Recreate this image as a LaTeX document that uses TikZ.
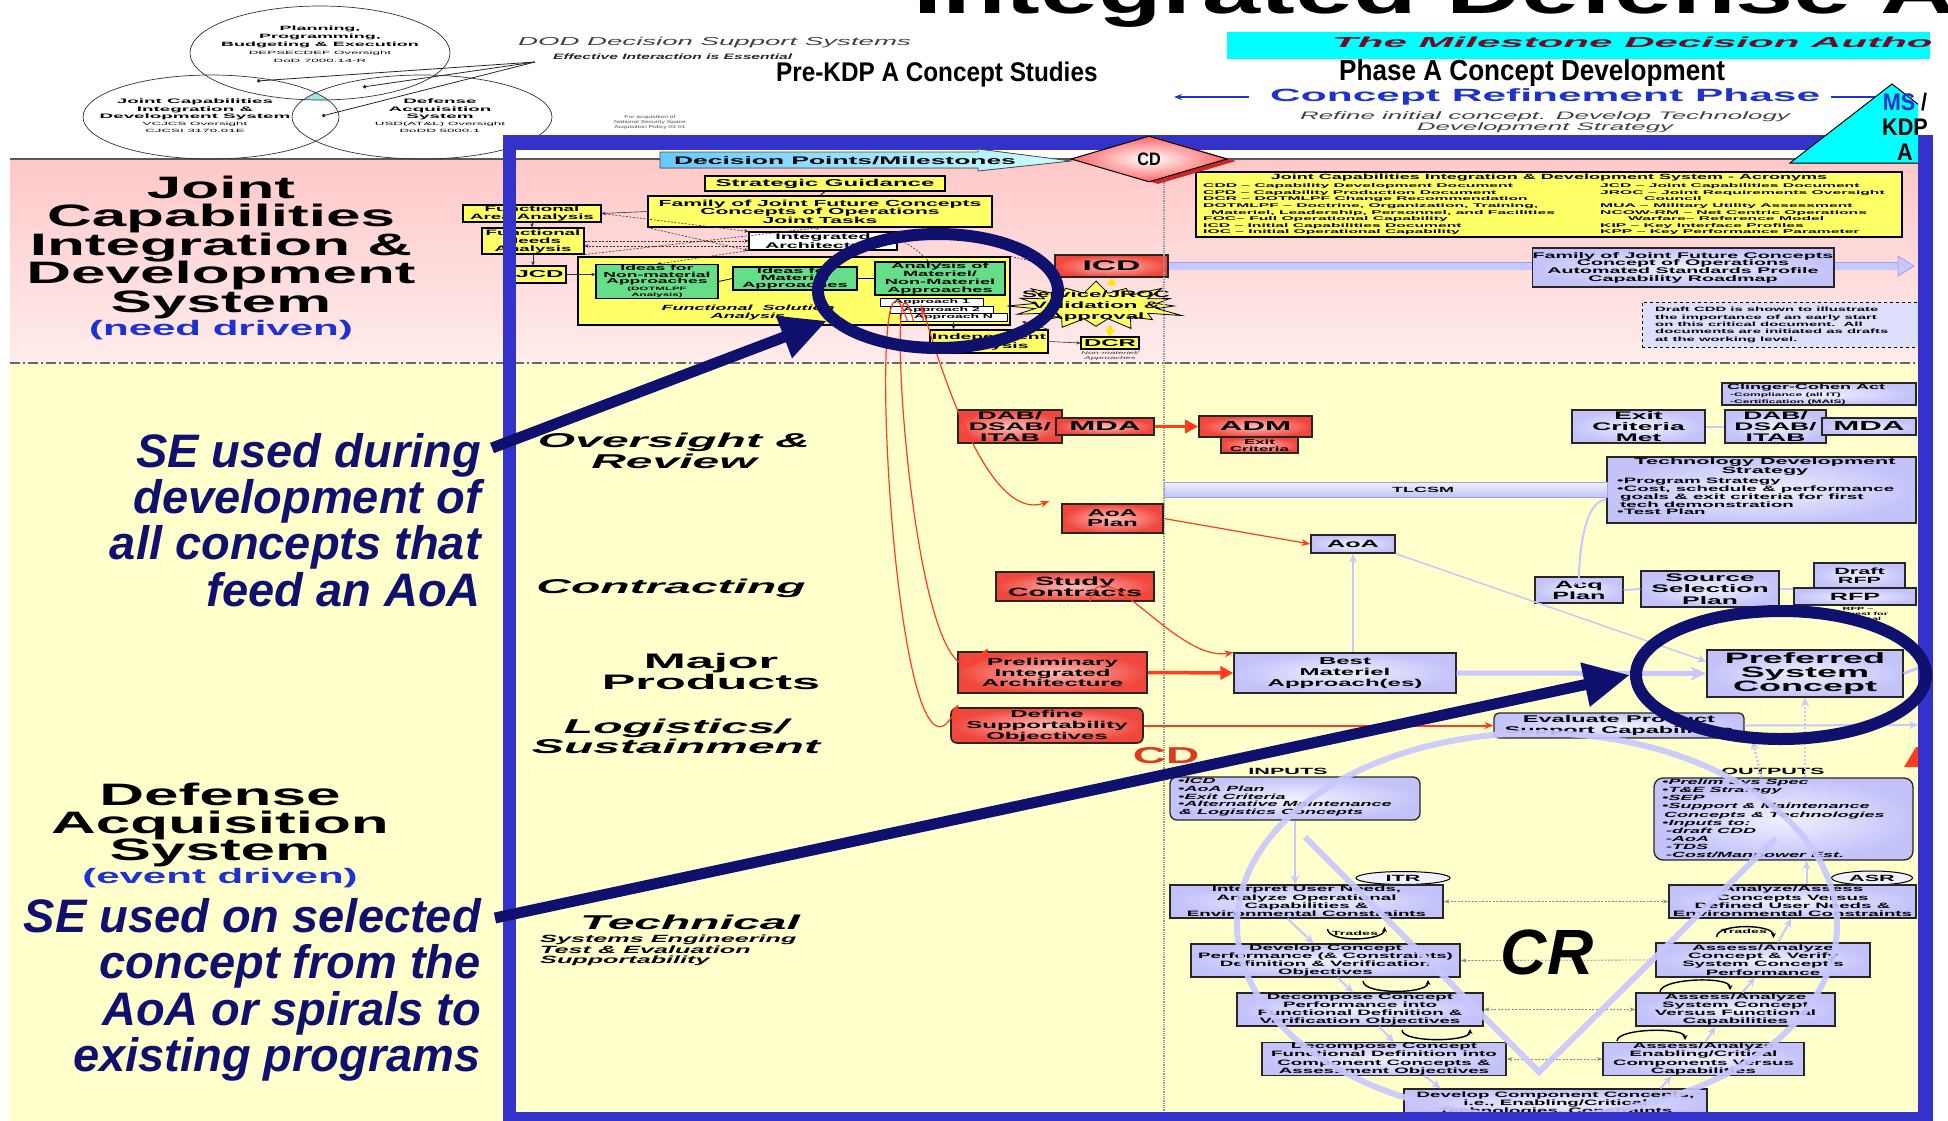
\documentclass[tikz,border=0pt]{standalone}
\usepackage{fontspec}
\usepackage{graphicx}
\setmainfont{Liberation Sans}
\newfontfamily\Wa[FakeStretch=1.6]{Liberation Sans}
\newfontfamily\Wb[FakeStretch=2.0]{Liberation Sans}
\newfontfamily\Wc[FakeStretch=2.4]{Liberation Sans}
\newfontfamily\Wd[FakeStretch=2.9]{Liberation Sans}
\newfontfamily\Nr[FakeStretch=0.9]{Liberation Sans}
\usetikzlibrary{shapes.geometric,arrows.meta,calc}
\setlength{\lineskiplimit}{-40pt}
\newcommand\fz[2]{\fontsize{#1}{#2}\selectfont}
\newcommand\bx[7]{\pgfmathsetmacro\bxw{(#4)-(#2)}\pgfmathsetmacro\bxh{(#5)-(#3)}\node[#6, minimum width=\bxw pt, minimum height=\bxh pt] (#1) at ({((#2)+(#4))/2},{((#3)+(#5))/2}) {#7};}
\definecolor{pinkT}{RGB}{255,200,200}
\definecolor{pinkB}{RGB}{255,236,236}
\definecolor{ylwbg}{RGB}{255,255,204}
\definecolor{frameblue}{RGB}{51,51,204}
\definecolor{navy}{RGB}{16,16,110}
\definecolor{boxy}{RGB}{255,255,102}
\definecolor{boxg}{RGB}{102,221,136}
\definecolor{redIn}{RGB}{255,190,185}
\definecolor{redOut}{RGB}{240,70,60}
\definecolor{lavIn}{RGB}{240,240,255}
\definecolor{lavOut}{RGB}{195,195,250}
\definecolor{lavline}{RGB}{200,200,255}
\definecolor{lavedge}{RGB}{160,160,230}
\definecolor{arrred}{RGB}{255,60,30}
\definecolor{maroon}{RGB}{115,10,40}
\definecolor{crblue}{RGB}{30,50,210}
\definecolor{cyanbar}{RGB}{0,255,255}
\definecolor{cdred}{RGB}{220,60,30}
\definecolor{cdfill}{RGB}{255,100,100}
\definecolor{cdshadow}{RGB}{200,40,40}
\definecolor{venncyan}{RGB}{160,230,230}
\definecolor{yarrc}{RGB}{255,230,0}
\tikzset{
  bt/.style={align=center, inner sep=0.5pt, text=black},
  txt/.style={align=center, inner sep=0pt, text=black},
  ybox/.style={bt, draw=black, line width=1.1, fill=boxy},
  gbox/.style={bt, draw=black, line width=1.1, fill=boxg},
  wbox/.style={bt, draw=black, line width=1.1, fill=white},
  rbox/.style={bt, draw=black!85, line width=1.6, inner color=redIn, outer color=redOut},
  lbox/.style={bt, draw=black!85, line width=1.3, inner color=lavIn, outer color=lavOut},
  thinarr/.style={-{Stealth[length=4pt,width=3.5pt]}, line width=0.6, draw=black!80},
  dasharr/.style={thinarr, dash pattern=on 2pt off 1.5pt},
  redarr/.style={-{Stealth[length=9pt,width=7pt]}, line width=1.2, draw=arrred},
  redfat/.style={-{Triangle[length=13pt,width=13pt]}, line width=3.5, draw=arrred},
  lavarr/.style={-{Stealth[length=9pt,width=8pt]}, line width=2, draw=lavline},
  lavfat/.style={-{Stealth[length=16pt,width=14pt]}, line width=5, draw=lavline},
  lavdot/.style={lavarr, line width=2.5, dash pattern=on 2pt off 2pt},
  ddarr/.style={{Stealth[length=6pt,width=4pt]}-{Stealth[length=6pt,width=4pt]}, line width=0.8, draw=black!45, dash pattern=on 2pt off 1.5pt},
  loopar/.style={-{Stealth[length=5pt,width=5pt]}, line width=1.4, draw=black},
  yarr/.style={-{Triangle[length=7pt,width=9pt]}, line width=3.5, draw=yarrc},
  navyarr/.style={line width=11, draw=navy, -{Triangle[length=46pt,width=42pt]}},
  navyring/.style={ellipse, draw=navy, line width=12, inner sep=0pt},
  lavover/.style={draw=lavline, line width=6, opacity=0.9},
  vfont/.style={font=\Wc\bfseries\fz{7.8}{8.2}},
}
\begin{document}
\begin{tikzpicture}[x=1pt,y=-1pt]
\useasboundingbox (0,0) rectangle (1948,1121);
\begin{scope}
\clip (0,0) rectangle (1948,1121);
% backgrounds
\fill[white] (0,0) rectangle (1948,1121);
\shade[top color=pinkT, bottom color=pinkB] (10,159) rectangle (1930,363);
\draw[black!65, line width=1.5] (10,159) -- (1930,159);
\fill[ylwbg] (10,363) rectangle (1930,1121);
\draw[black!60, line width=1.3, dash pattern=on 10pt off 3pt on 2pt off 3pt] (10,363) -- (1930,363);

% ---------- Venn ----------
\begin{scope}
 \clip (320,53) ellipse [x radius=130, y radius=47];
 \clip (211,117) ellipse [x radius=128, y radius=42];
 \fill[venncyan] (422,117) ellipse [x radius=130, y radius=42];
\end{scope}
\draw[black!80, line width=0.7] (320,53) ellipse [x radius=130, y radius=47];
\draw[black!80, line width=0.7] (211,117) ellipse [x radius=128, y radius=42];
\draw[black!80, line width=0.7] (422,117) ellipse [x radius=130, y radius=42];
\node[txt, font=\Wd\bfseries\fz{6.2}{8}] (vt) at (320,44) {Planning,\\Programming,\\Budgeting \& Execution\\{\mdseries\fz{4.6}{8}DEPSECDEF Oversight}\\{\mdseries\fz{4.6}{8}DoD 7000.14-R}};
\node[txt, font=\Wd\bfseries\fz{6.5}{7.3}] (vl) at (195,116) {Joint Capabilities\\Integration \&\\Development System\\{\mdseries\fz{4.6}{7.3}VCJCS Oversight}\\{\mdseries\fz{4.6}{7.3}CJCSI 3170.01E}};
\node[txt, font=\Wd\bfseries\fz{6.5}{7.3}] (vr) at (440,116) {Defense\\Acquisition\\System\\{\mdseries\fz{4.6}{7.3}USD(AT\&L) Oversight}\\{\mdseries\fz{4.6}{7.3}DoDD 5000.1}};
\coordinate (dd1) at (257,81);
\coordinate (dd2) at (363,87);
\coordinate (dd3) at (322,116);
\coordinate (ddc) at (535,62);
\draw[black!85, line width=0.8, {Circle[length=3.5pt]}-] (dd1) -- (ddc);
\draw[black!85, line width=0.8, {Circle[length=3.5pt]}-] (dd2) -- (ddc);
\draw[black!85, line width=0.8, {Circle[length=3.5pt]}-] (dd3) -- (ddc);
\node[txt, anchor=west, text=black!75, font=\Wc\itshape\fz{11.5}{12}] (dod) at (518,43) {DOD Decision Support Systems};
\node[txt, anchor=west, text=black!85, font=\Wb\bfseries\itshape\fz{7.8}{8}] (eff) at (553,57) {Effective Interaction is Essential};
\node[txt, text=black!70, font=\Wa\fz{4.2}{5}] (forac) at (650,122) {For acquisition of\\National Security Space\\Acquisition Policy 03-01};

% ---------- title area ----------
\node[anchor=base west, inner sep=0pt] (title) at (913,14) {\scalebox{1.58}[1]{\bfseries\fz{66}{66}Integrated Defense A}};
\fill[cyanbar] (1227,32) rectangle (1930,59);
\begin{scope}
 \clip (1227,32) rectangle (1930,59);
 \node[txt, anchor=west, text=maroon, font=\Wd\bfseries\itshape\fz{14.5}{15}] (mdat) at (1332,44) {The Milestone Decision Authority};
\end{scope}
\node[txt, anchor=west, font=\Nr\bfseries\fz{27}{27}] (prekdp) at (776,75) {Pre-KDP A Concept Studies};
\node[txt, anchor=west, font=\Nr\bfseries\fz{29}{29}] (phasea) at (1339,73) {Phase A Concept Development};
\node[txt, anchor=west, text=crblue, font=\Wc\bfseries\fz{17.7}{18}] (crp) at (1270,97) {Concept Refinement Phase};
\coordinate (crl) at (1174,97);
\coordinate (crr) at (1900,97);
\draw[crblue, line width=1.2, -{Stealth[length=8pt,width=6pt]}] ([xshift=-21pt]crp.west) -- (crl);
\draw[crblue, line width=1.2] ([xshift=11pt]crp.east) -- (crr);
\node[txt, text=black!75, font=\Wc\itshape\fz{10.8}{11.5}] (refine) at (1545,122) {Refine initial concept. Develop Technology\\Development Strategy};

% ---------- pink region (JCIDS) ----------
\node[txt, font=\Wb\bfseries\fz{31}{28.5}] (jcids) at (221,247) {Joint\\Capabilities\\Integration \&\\Development\\System};
\node[txt, text=crblue, font=\Wb\bfseries\fz{21}{21}] (needd) at (221,330) {(need driven)};

\bx{FSA}{578}{257}{1010}{325}{ybox}{}
\node[txt, font=\Wc\bfseries\itshape\fz{7.5}{8}] (FSAt) at (748,313) {Functional\ \ Solution\\Analysis};
\bx{FAA}{463}{205}{601}{222}{ybox, font=\Wc\bfseries\fz{7.8}{8}}{Functional\\Area Analysis}
\bx{FNA}{482}{228}{584}{254}{ybox, font=\Wc\bfseries\fz{7.8}{8}}{Functional\\Needs\\Analysis}
\bx{JCD}{513}{266}{566}{283}{ybox, font=\Wc\bfseries\fz{10}{10}}{JCD}
\bx{StrG}{705}{176}{945}{191}{ybox, font=\Wc\bfseries\fz{10}{10}}{Strategic Guidance}
\bx{Fam}{648}{196}{992}{227}{ybox, font=\Wc\bfseries\fz{8.8}{8.5}}{Family of Joint Future Concepts\\Concepts of Operations\\Joint Tasks}
\bx{IntA}{749}{232}{897}{250}{wbox, font=\Wc\bfseries\fz{8.2}{8.3}}{Integrated\\Architecture}
\bx{G1}{596}{265}{718}{298}{gbox, font=\Wc\bfseries\fz{7.3}{6.6}}{Ideas for\\Non-material\\Approaches\\{\fz{4.8}{6.6}(DOTMLPF}\\{\fz{4.8}{6.6}Analysis)}}
\bx{G2}{733}{267}{857}{290}{gbox, font=\Wc\bfseries\fz{7.6}{7.4}}{Ideas for\\Materiel\\Approaches}
\bx{G3}{875}{262}{1005}{295}{gbox, font=\Wc\bfseries\fz{7.6}{7.8}}{Analysis of\\Materiel/\\Non-Materiel\\Approaches}
\bx{Ap1}{880}{298}{983}{306}{wbox, line width=0.8, font=\Wc\bfseries\fz{5.8}{6}}{Approach 1}
\bx{Ap2}{890}{306}{993}{313}{wbox, line width=0.8, font=\Wc\bfseries\fz{5.8}{6}}{Approach 2}
\bx{ApN}{900}{313}{1007}{321}{wbox, line width=0.8, font=\Wc\bfseries\fz{5.8}{6}}{Approach N}
\bx{Indep}{930}{330}{1048}{353}{ybox, font=\Wc\bfseries\fz{8}{9}}{Independent\\Analysis}
\bx{DCR}{1081}{337}{1139}{349}{ybox, font=\Wc\bfseries\fz{10}{10}}{DCR}
\node[txt, text=black!80, font=\Wc\itshape\fz{4}{4.5}] (DCRn) at (1110,356) {Non-materiel/\\Approaches};
% starburst
\draw[fill=boxy, draw=black, line width=0.8] (1174,306) \foreach \i in {1,...,31}{ -- ({1096+(62+(1-isodd(\i))*(24-7*cos(\i*97)))*cos(\i*11.25)},{306+(13+(1-isodd(\i))*(9-3*cos(\i*97)))*sin(\i*11.25)}) } -- cycle;
\node[minimum width=168pt, minimum height=40pt, inner sep=0pt] (Star) at (1096,306) {};
\node[txt, font=\Wc\bfseries\fz{9.3}{11}] (StarT) at (1096,306) {Service/JROC\\Validation \&\\Approval};
\bx{ICD}{1055}{255}{1168}{277}{rbox, font=\Wc\bfseries\fz{14}{14}}{ICD}

\draw[line width=0.8] (StrG.south) -- (Fam.north);
\draw[thinarr] (Fam.west) -- (FAA.east);
\draw[thinarr] (FAA.south) -- (FAA.south |- FNA.north);
\draw[thinarr] (FNA.south) -- (FNA.south |- JCD.north);
\draw[thinarr] (JCD.east) -- (G1.west |- JCD.east);
\draw[dasharr] (FNA.east) -- (IntA.west);
\draw[dasharr] ([yshift=-5pt]IntA.west) -- ([yshift=-5pt]FNA.east);
\draw[dasharr] (FAA.east) -- (IntA.north west);
\draw[dasharr] (Fam.south west) -- (IntA.south west);
\draw[dasharr] (FNA.south east) -- (Fam.south);
\draw[dasharr] (IntA.south west) -- (G1.north);
\draw[dasharr] (IntA.east) to[out=0,in=270] (G3.north);
\draw[dasharr] (FSA.north east) -- (ICD.west);
\draw[line width=0.8] (G1.east) -- (G2.west);
\draw[line width=0.8] (G2.east) -- (G3.west);
\draw[thinarr] (ApN.south) -- (ApN.south |- Indep.north);
\draw[thinarr] (Indep.east) -- (DCR.west);
\draw[thinarr] (Indep.north east) -- (StarT.south west);
\draw[yarr] (Star.north -| ICD.south) -- (ICD.south);
\draw[yarr] (Star.south -| DCR.north) -- (DCR.north);

\bx{Fam2}{1534}{248}{1832}{287}{lbox, font=\Wc\bfseries\fz{8.2}{7.6}}{Family of Joint Future Concepts\\Concept of Operations\\Automated Standards Profile\\Capability Roadmap}
\coordinate (famEnd) at (1898,266);
\draw[draw=lavedge, double=lavline, double distance=7pt, line width=0.8] (ICD.east) -- (ICD.east -| Fam2.west);
\draw[draw=lavedge, double=lavline, double distance=7pt, line width=0.8] (Fam2.east |- ICD.east) -- (famEnd);
\filldraw[fill=lavline, draw=lavedge, line width=0.8] (1898,256) -- (1914,266) -- (1898,276) -- cycle;

\bx{acr}{1196}{172}{1902}{237}{ybox}{}
\node[txt, font=\Wc\bfseries\fz{7.5}{8}] (acrT) at (1549,178) {Joint Capabilities Integration \& Development System - Acronyms};
\node[txt, anchor=north west, align=left, font=\Wd\bfseries\fz{5.4}{6.6}] (acrL) at (1203,183.5) {CDD – Capability Development Document\\CPD – Capability Production Document\\DCR – DOTMLPF Change Recommendation\\DOTMLPF – Doctrine, Organization, Training,\\\hspace*{8pt}Materiel, Leadership, Personnel, and Facilities\\FOC– Full Operational Capability\\ICD – Initial Capabilities Document\\IOC – Initial Operational Capability};
\node[txt, anchor=north west, align=left, font=\Wd\bfseries\fz{5.4}{6.6}] (acrR) at (1600,183.5) {JCD – Joint Capabilities Document\\JROC – Joint Requirements Oversight\\\hspace*{44pt}Council\\MUA – Military Utility Assessment\\NCOW-RM – Net Centric Operations\\\hspace*{28pt}Warfare– Reference Model\\KIP – Key Interface Profiles\\KPP – Key Performance Parameter};

\bx{draftcdd}{1642}{302}{1922}{347}{bt, draw=black, dashed, line width=1, fill=lavIn!60!lavOut}{}
\node[txt, anchor=west, align=left, font=\Wc\bfseries\fz{6.2}{7.3}] (dcddt) at (1655,325) {Draft CDD is shown to illustrate\\the importance of an early start\\on this critical document.\ \ All\\documents are initiated as drafts\\at the working level.};

% divider
\draw[black!40, line width=2.5, dash pattern=on 1pt off 0.8pt] (1164,160) -- (1164,1112);

% ---------- yellow region ----------
\node[txt, font=\Wb\bfseries\fz{31}{27.5}] (das) at (220,825) {Defense\\Acquisition\\System};
\node[txt, text=crblue, font=\Wb\bfseries\fz{21}{21}] (eventd) at (220,878) {(event driven)};
\node[txt, font=\Wc\bfseries\itshape\fz{20}{21}] (ovr) at (674,451) {Oversight \&\\Review};
\node[txt, font=\Wc\bfseries\itshape\fz{20}{21}] (ctr) at (671,588) {Contracting};
\node[txt, font=\Wc\bfseries\fz{21}{21}] (majp) at (711,671) {Major\\Products};
\node[txt, font=\Wc\bfseries\itshape\fz{20}{20}] (logs) at (676,736) {Logistics/\\Sustainment};
\node[txt, anchor=west, font=\Wc\bfseries\itshape\fz{20}{20}] (tech) at (580,922) {Technical};
\node[txt, anchor=north west, align=left, font=\Wc\bfseries\itshape\fz{10.5}{10.5}] (techs) at (540,935) {Systems Engineering\\Test \& Evaluation\\Supportability};

% red boxes
\bx{DAB1}{958}{410}{1062}{443}{rbox, font=\Wc\bfseries\fz{11}{11.2}}{DAB/\\DSAB/\\ITAB}
\bx{MDA1}{1056}{418}{1154}{435}{rbox, font=\Wc\bfseries\fz{13}{13}}{MDA}
\bx{ADM}{1199}{416}{1312}{437}{rbox, font=\Wc\bfseries\fz{13}{13}}{ADM}
\bx{ExitC}{1221}{437}{1298}{453}{rbox, font=\Wc\bfseries\fz{7}{7}}{Exit\\Criteria}
\bx{AoAPlan}{1062}{504}{1163}{533}{rbox, font=\Wc\bfseries\fz{10}{10}}{AoA\\Plan}
\bx{Study}{996}{572}{1154}{601}{rbox, font=\Wc\bfseries\fz{12}{11}}{Study\\Contracts}
\bx{PIA}{958}{652}{1147}{693}{rbox, font=\Wc\bfseries\fz{10}{10.5}}{Preliminary\\Integrated\\Architecture}
\bx{DSO}{951}{708}{1143}{743}{rbox, rounded corners=6pt, font=\Wc\bfseries\fz{10}{11}}{Define\\Supportability\\Objectives}
\node[txt, text=cdred, font=\Wb\bfseries\fz{23}{23}] (cdlbl) at (1166,756) {CD};

% lavender boxes
\bx{AoA}{1311}{535}{1395}{553}{lbox, font=\Wc\bfseries\fz{10.5}{10.5}}{AoA}
\bx{CCA}{1722}{383}{1916}{405}{lbox}{}
\node[txt, anchor=north west, align=left, font=\Wc\bfseries\fz{7.5}{7.3}] (CCAt) at (1727,383.5) {Clinger-Cohen Act\\{\fz{5}{7.3}\hspace*{3pt}-Compliance (all IT)}\\{\fz{5}{7.3}\hspace*{3pt}-Certification (MAIS)}};
\bx{ExitM}{1572}{410}{1705}{443}{lbox, font=\Wc\bfseries\fz{11}{10.8}}{Exit\\Criteria\\Met}
\bx{DAB2}{1725}{410}{1826}{443}{lbox, font=\Wc\bfseries\fz{11}{11.2}}{DAB/\\DSAB/\\ITAB}
\bx{MDA2}{1822}{418}{1916}{435}{lbox, font=\Wc\bfseries\fz{13}{13}}{MDA}
\bx{TDS}{1607}{457}{1916}{523}{lbox}{}
\node[txt, font=\Wc\bfseries\fz{9}{9}] (TDSt) at (1765,467) {Technology Development\\Strategy};
\node[txt, anchor=north west, align=left, font=\Wc\bfseries\fz{7.8}{7.8}] (TDSb) at (1617,478) {•Program Strategy\\•Cost, schedule \& performance\\\hspace*{3pt}goals \& exit criteria for first\\\hspace*{3pt}tech demonstration\\•Test Plan};
\bx{tlcsm}{1164}{482}{1607}{497}{bt, draw=lavedge, line width=0.8, top color=lavIn, bottom color=lavOut}{}
\node[txt, font=\Wc\bfseries\fz{7.5}{7.5}] (tlcsmT) at (1423,489.5) {TLCSM};
\bx{AcqP}{1535}{577}{1623}{603}{lbox, font=\Wc\bfseries\fz{10.5}{11}}{Acq\\Plan}
\bx{SSP}{1641}{571}{1779}{607}{lbox, font=\Wc\bfseries\fz{11}{11.5}}{Source\\Selection\\Plan}
\bx{DRFP}{1814}{563}{1905}{588}{lbox, font=\Wc\bfseries\fz{9}{9.5}}{Draft\\RFP}
\bx{RFP}{1794}{588}{1916}{605}{lbox, font=\Wc\bfseries\fz{10.5}{10.5}}{RFP}
\node[txt, font=\Wc\bfseries\fz{4.5}{5}] (rfpn) at (1858,614) {RFP –\\Request for\\Proposal};
\bx{BMA}{1234}{653}{1456}{693}{lbox, font=\Wc\bfseries\fz{10}{11}}{Best\\Materiel\\Approach(es)}
\bx{PSC}{1707}{650}{1903}{697}{lbox, font=\Wc\bfseries\fz{15}{14.2}}{Preferred\\System\\Concept}
\bx{EPS}{1494}{713}{1744}{738}{lbox, rounded corners=5pt, font=\Wc\bfseries\fz{9.8}{10.5}}{Evaluate Product\\Support Capabilities}

% red connectors
\draw[redfat] (MDA1.east) -- (ADM.west);
\draw[redarr] (AoAPlan.east) -- (AoA.west);
\draw[redfat] (PIA.east) -- (BMA.west);
\draw[redarr, line width=2] (DSO.east) -- (EPS.west);
\draw[redarr] ($(Study.south)+(15,0)$) to[out=80,in=190] (BMA.north west);
\draw[redarr] ($(ApN.south)+(-30,0)$) to[out=100,in=200] ($(AoAPlan.north west)+(-12,-2)$);
\draw[redarr] ($(ApN.south)+(-40,0)$) to[out=105,in=235] ($(PIA.north west)+(31,-3)$);
\draw[redarr] ($(ApN.south)+(-46,0)$) to[out=108,in=245] ($(DSO.north west)+(8,-3)$);

% lavender connectors
\draw[lavarr] (AoA.south |- BMA.north) -- (AoA.south);
\draw[lavarr, line width=1.5] (AoA.south east) -- ($(PSC.west)+(0,-12)$);
\draw[lavfat] (BMA.east) -- (PSC.west);
\coordinate (pscR) at (1918,668);
\coordinate (epsR) at (1918,725);
\draw[lavline, line width=3] (PSC.east) -- (pscR);
\draw[lavarr] (EPS.east) -- (epsR);
\draw[lavarr] ($(TDS.west)+(0,10)$) to[out=180,in=270] (AcqP.north);
\draw[lavline, line width=2] (AcqP.east) -- (SSP.west);
\draw[lavline, line width=2] (SSP.east) -- (RFP.west |- SSP.east);
\draw[lavline, line width=2] (ExitM.east) -- (DAB2.west);

% ---------- V diagram ----------
\node[txt, font=\Wc\bfseries\fz{9}{9}] (INt) at (1288,771) {INPUTS};
\bx{INbox}{1170}{777}{1420}{820}{lbox, rounded corners=7pt}{}
\node[txt, anchor=north west, align=left, font=\Wc\bfseries\itshape\fz{7.5}{7.8}] (INl) at (1178,778) {•ICD\\•AoA Plan\\•Exit Criteria\\•Alternative Maintenance\\\hspace*{1pt}\& Logistics Concepts};
\node[txt, font=\Wc\bfseries\fz{9}{9}] (OUTt) at (1773,771) {OUTPUTS};
\bx{OUTbox}{1654}{778}{1913}{860}{lbox, rounded corners=9pt}{}
\node[txt, anchor=north west, align=left, font=\Wc\bfseries\itshape\fz{7.5}{8.1}] (OUTl) at (1662,779) {•Prelim Sys Spec\\•T\&E Strategy\\•SEP\\•Support \& Maintenance\\\hspace*{2pt}Concepts \& Technologies\\•Inputs to:\\\hspace*{4pt}-draft CDD\\\hspace*{4pt}-AoA\\\hspace*{4pt}-TDS\\\hspace*{4pt}-Cost/Manpower Est.};
\node[ellipse, draw=black, line width=1, fill=lavIn, minimum width=94pt, minimum height=13pt, inner sep=0pt, font=\Wc\bfseries\fz{9}{9}] (ITR) at (1403,878) {ITR};
\node[ellipse, draw=black, line width=1, fill=lavIn, minimum width=81pt, minimum height=14pt, inner sep=0pt, font=\Wc\bfseries\fz{9}{9}] (ASR) at (1872,878) {ASR};
\bx{L1}{1170}{885}{1443}{918}{lbox, vfont}{Interpret User Needs,\\Analyze Operational\\Capabilities \&\\Environmental Constraints}
\bx{L2}{1191}{944}{1460}{977}{lbox, vfont}{Develop Concept\\Performance (\& Constraints)\\Definition \& Verification\\Objectives}
\bx{L3}{1237}{993}{1483}{1026}{lbox, vfont}{Decompose Concept\\Performance into\\Functional Definition \&\\Verification Objectives}
\bx{L4}{1262}{1043}{1506}{1075}{lbox, vfont}{Decompose Concept\\Functional Definition into\\Component Concepts \&\\Assessment Objectives}
\bx{L5}{1404}{1089}{1707}{1118}{lbox, vfont}{Develop Component Concepts,\\i.e., Enabling/Critical\\Technologies, Constraints}
\bx{R1}{1669}{885}{1916}{918}{lbox, vfont}{Analyze/Assess\\Concepts Versus\\Defined User Needs \&\\Environmental Constraints}
\bx{R2}{1656}{943}{1870}{977}{lbox, vfont}{Assess/Analyze\\Concept \& Verify\\System Concept's\\Performance}
\bx{R3}{1636}{993}{1835}{1026}{lbox, vfont}{Assess/Analyze\\System Concept\\Versus Functional\\Capabilities}
\bx{R4}{1603}{1043}{1804}{1075}{lbox, vfont}{Assess/Analyze\\Enabling/Critical\\Components Versus\\Capabilities}

\draw[lavdot] (PSC.south |- OUTbox.north) -- (PSC.south);
\draw[lavdot] ($(OUTbox.north)+(-22,0)$) -- ($(EPS.south east)+(8,2)$);
\draw[lavarr] (INbox.south) -- (INbox.south |- L1.north);
\draw[lavarr] ($(L1.south)+(-19,0)$) -- ($(L2.north)+(-12,0)$);
\draw[lavarr] ($(L2.south)+(12,0)$) -- ($(L3.north)+(-7,0)$);
\draw[lavarr] ($(L3.south)+(19,0)$) -- ($(L4.north)+(10,0)$);
\draw[lavarr] ($(L4.south)+(41,0)$) -- ($(L5.north)+(-115,0)$);
\draw[lavarr] ($(L5.north)+(105,0)$) -- ($(R4.south)+(-32,0)$);
\draw[lavarr] ($(R4.north)+(2,0)$) -- ($(R3.south)+(-20,0)$);
\draw[lavarr] ($(R3.north)+(7,0)$) -- ($(R2.south)+(-8,0)$);
\draw[lavarr] ($(R2.north)+(15,0)$) -- ($(R1.south)+(-1,0)$);
\draw[lavarr] ($(R1.north)+(14,0)$) -- ($(OUTbox.south)+(23,0)$);
\draw[ddarr] (L1.east) -- (R1.west);
\draw[ddarr] (L2.east) -- (R2.west);
\draw[ddarr] (L3.east) -- (R3.west);
\draw[ddarr] (L4.east) -- (R4.west);

\node[txt, font=\Wc\bfseries\fz{6}{6}] (tr1) at (1355,933) {Trades};
\draw[loopar] ($(tr1.west)+(-4,-4)$) .. controls +(0,14) and +(0,14) .. ($(tr1.east)+(6,-6)$);
\node[txt, font=\Wc\bfseries\fz{6}{6}] (tr2) at (1744,931) {Trades};
\draw[loopar] ($(tr2.west)+(-4,6)$) .. controls +(0,-14) and +(0,-14) .. ($(tr2.east)+(6,7)$);
\coordinate (lp2a) at (1363,981);
\coordinate (lp2b) at (1428,980);
\coordinate (lp3a) at (1402,1030);
\coordinate (lp3b) at (1470,1029);
\coordinate (rp2a) at (1660,992);
\coordinate (rp2b) at (1730,990);
\coordinate (rp3a) at (1617,1041);
\coordinate (rp3b) at (1685,1040);
\draw[loopar] (lp2a) .. controls +(0,14) and +(0,14) .. (lp2b);
\draw[loopar] (lp3a) .. controls +(0,13) and +(0,13) .. (lp3b);
\draw[loopar] (rp2a) .. controls +(0,-14) and +(0,-14) .. (rp2b);
\draw[loopar] (rp3a) .. controls +(0,-13) and +(0,-13) .. (rp3b);

\draw[lavover] (1537,925) ellipse [x radius=300, y radius=192];
\draw[lavover, line join=miter] (1305,837) -- (1539,1072) -- (1776,838);
\node[txt, font=\bfseries\itshape\fz{64}{64}] (CR) at (1547,952) {CR};

\fill[arrred] (1904,767) -- (1916,747) -- (1918,747) -- (1918,767) -- cycle;

% ---------- blue frame ----------
\fill[frameblue] (503,135) rectangle (1933,150);
\fill[frameblue] (503,135) rectangle (516,1121);
\fill[frameblue] (1918,135) rectangle (1933,1121);
\fill[frameblue] (503,1112) rectangle (1933,1121);

% decision points arrow and CD diamond
\filldraw[left color=blue!35!cyan!60, right color=cyan!20, draw=black!70, line width=0.8] (660,152) -- (978,152) -- (978,149) -- (1071,161) -- (978,171) -- (978,168) -- (660,168) -- cycle;
\node[txt, font=\Wc\bfseries\fz{11}{11}] (dpm) at (845,161) {Decision Points/Milestones};
\node[diamond, fill=cdshadow, minimum width=156pt, minimum height=46pt, inner sep=0pt] (cdsh) at (1158,161) {};
\node[diamond, draw=black, line width=1, inner color=white, outer color=cdfill, minimum width=156pt, minimum height=46pt, inner sep=0pt, font=\Nr\bfseries\fz{18}{18}] (cdm) at (1149,159) {CD};

% MS / KDP A triangle
\begin{scope}
 \clip (1780,80) rectangle (1918,164);
 \filldraw[fill=cyanbar, draw=black, line width=1] (1790,163) -- (1892,84) -- (1994,163) -- cycle;
\end{scope}
\node[txt, font=\Nr\bfseries\fz{24}{25}] (mskdp) at (1905,127) {{\color{crblue}MS} /\\KDP\\A};

% ---------- navy annotations ----------
\node[navyring, minimum width=240pt, minimum height=114pt] (e1) at (938,291) {};
\node[navyring, minimum width=290pt, minimum height=128pt] (e2) at (1781,675) {};
\coordinate (a1s) at (492,448);
\coordinate (a2s) at (495,918);
\draw[navyarr] (a1s) -- (e1.195);
\draw[navyarr] (a2s) -- (e2.west);
\node[txt, anchor=east, align=right, text=navy, font=\bfseries\itshape\fz{47}{46.4}] (se1) at (481,520) {SE used during\\development of\\all concepts that\\feed an AoA};
\node[txt, anchor=east, align=right, text=navy, font=\bfseries\itshape\fz{47}{46.4}] (se2) at (481,990) {SE used on selected\\concept from the\\AoA or spirals to\\existing programs};
\end{scope}
\end{tikzpicture}
\end{document}
